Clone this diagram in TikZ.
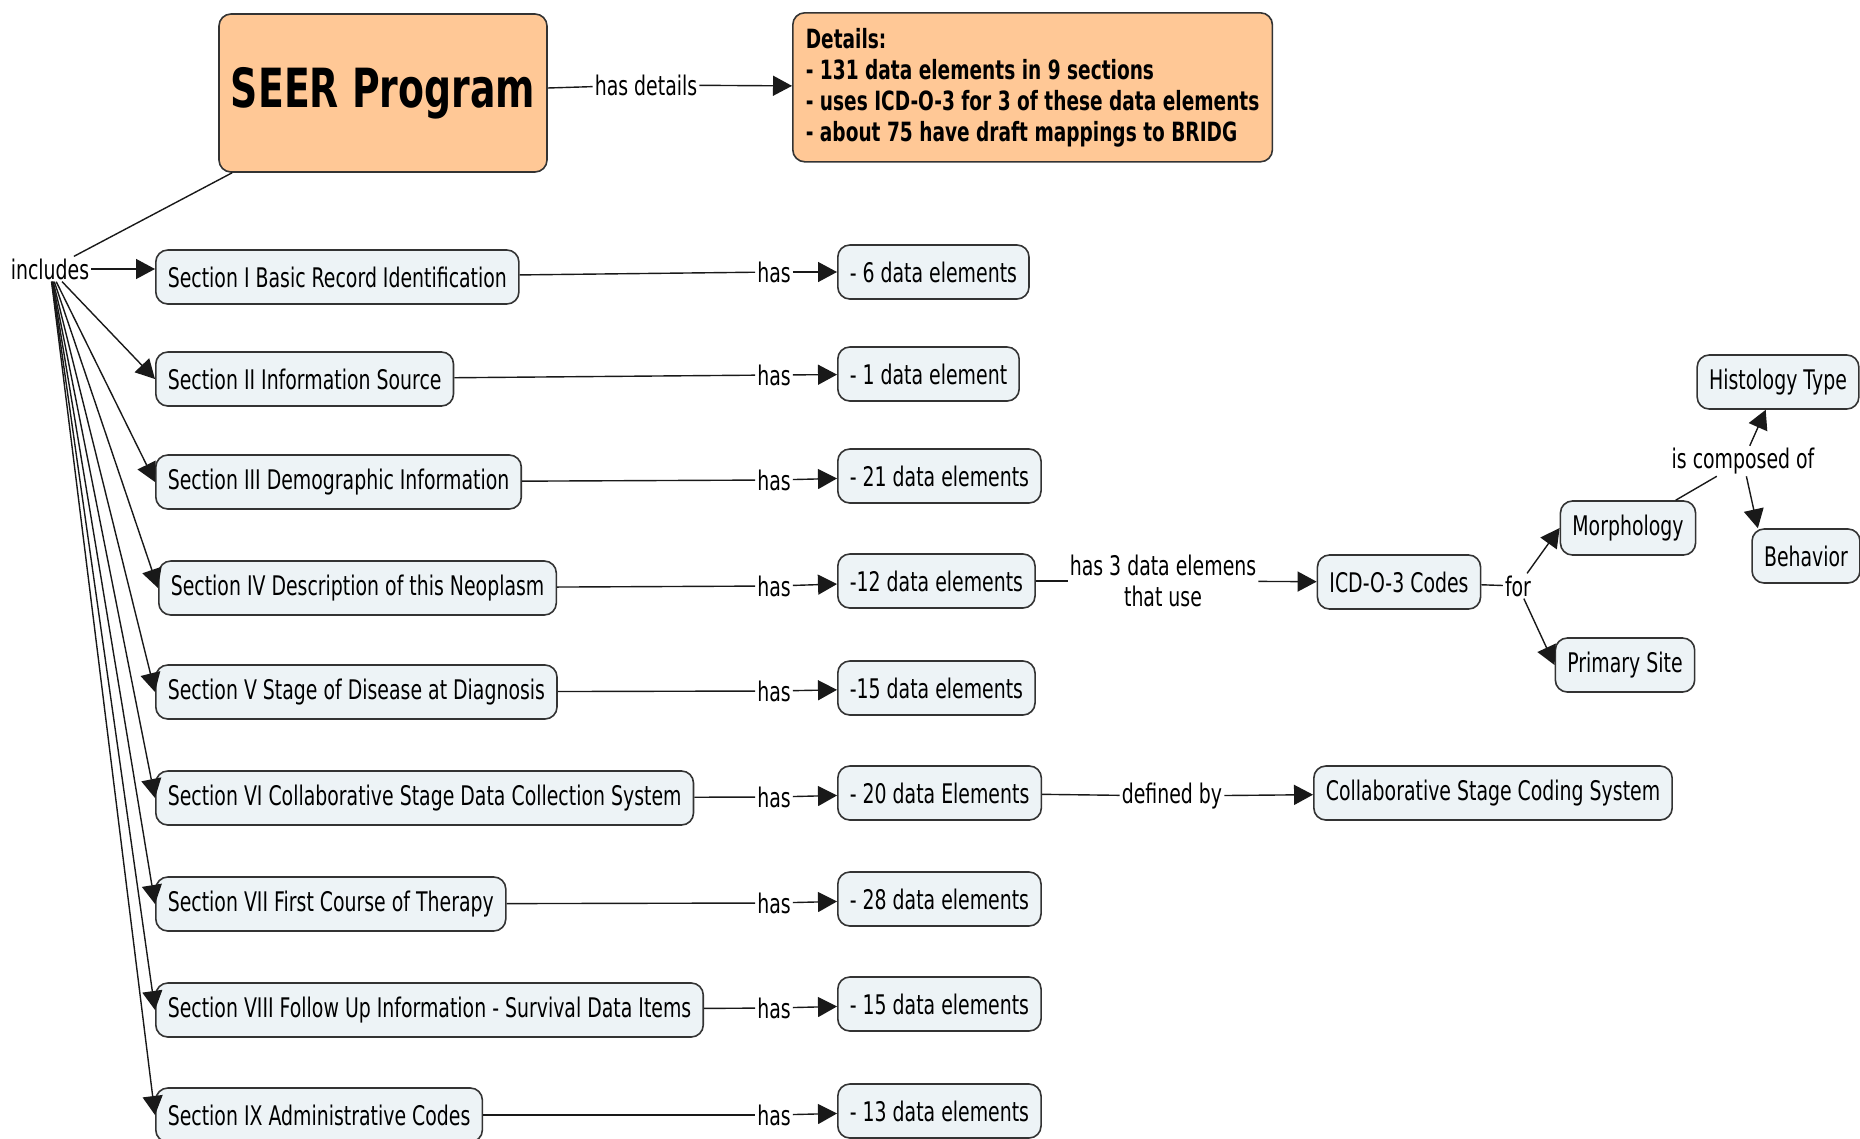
\documentclass[tikz,border=0pt]{standalone}
\usepackage{fontspec}
\setmainfont[FakeStretch=0.7]{DejaVu Sans}
\usetikzlibrary{arrows.meta}

\definecolor{peach}{RGB}{255,200,150}
\definecolor{boxblue}{RGB}{237,243,246}

\begin{document}
\begin{tikzpicture}
	[
		x=1pt, y=-1pt,
		every node/.style = {font=\fontsize{27}{31}\selectfont},
		concept/.style = {shape=rectangle, rounded corners=12pt, draw=black!80, line width=1.6pt, fill=boxblue, minimum height=54pt, inner xsep=12pt},
		secbox/.style = {concept, anchor=west},
		databox/.style = {concept, anchor=west},
		topbox/.style = {concept, fill=peach},
		link/.style = {inner sep=2pt},
		conn/.style = {line width=1.4pt, draw=black!90},
		arr/.style = {conn, -{Triangle[length=19pt,width=20pt]}}
	]
	
	\useasboundingbox (0,0) rectangle (1860,1138);
	
	% top of the map
	\node [topbox, minimum width=322pt, minimum height=158pt, font=\fontsize{54}{60}\selectfont\bfseries] (seer) at (383, 93) {SEER Program};
	\node [topbox, anchor=north west, minimum height=149pt, inner xsep=13pt, align=left, font=\fontsize{26.5}{31}\selectfont\bfseries] (det) at (792, 12) {Details:\\- 131 data elements in 9 sections\\- uses ICD-O-3 for 3 of these data elements\\- about 75 have draft mappings to BRIDG};
	\node [link] (hd) at (646, 85) {has details};
	\draw [conn] (seer) -- (hd);
	\draw [arr] (hd) -- (det);
	
	\node [link] (inc) at (50, 269) {includes};
	\draw [conn] (seer) -- (inc);
	
	% sections
	\def\y{277}
	\node [secbox] (s1) at (155, \y) {Section I Basic Record Identification};
	\node [link] (h1) at (774, {\y - 5}) {has};
	\node [databox] (d1) at (837, {\y - 5}) {- 6 data elements};
	\draw [arr] (inc) -- (inc -| s1.west);
	\draw [conn] (s1) -- (h1);
	\draw [arr] (h1) -- (d1);
	
	\def\y{379}
	\node [secbox] (s2) at (155, \y) {Section II Information Source};
	\node [link] (h2) at (774, {\y - 4}) {has};
	\node [databox] (d2) at (837, {\y - 5}) {- 1 data element};
	\draw [arr] (inc) -- (s2.west);
	\draw [conn] (s2) -- (h2);
	\draw [arr] (h2) -- (d2);
	
	\def\y{482}
	\node [secbox] (s3) at (155, \y) {Section III Demographic Information};
	\node [link] (h3) at (774, {\y - 2}) {has};
	\node [databox] (d3) at (837, {\y - 6}) {- 21 data elements};
	\draw [arr] (inc) -- (s3.west);
	\draw [conn] (s3) -- (h3);
	\draw [arr] (h3) -- (d3);
	
	\def\y{588}
	\node [secbox] (s4) at (158, \y) {Section IV Description of this Neoplasm};
	\node [link] (h4) at (774, {\y - 2}) {has};
	\node [databox] (d4) at (837, {\y - 7}) {-12 data elements};
	\draw [arr] (inc) -- (s4.west);
	\draw [conn] (s4) -- (h4);
	\draw [arr] (h4) -- (d4);
	
	\def\y{692}
	\node [secbox] (s5) at (155, \y) {Section V Stage of Disease at Diagnosis};
	\node [link] (h5) at (774, {\y - 1}) {has};
	\node [databox] (d5) at (837, {\y - 4}) {-15 data elements};
	\draw [arr] (inc) -- (s5.west);
	\draw [conn] (s5) -- (h5);
	\draw [arr] (h5) -- (d5);
	
	\def\y{798}
	\node [secbox] (s6) at (155, \y) {Section VI Collaborative Stage Data Collection System};
	\node [link] (h6) at (774, {\y - 1}) {has};
	\node [databox] (d6) at (837, {\y - 5}) {- 20 data Elements};
	\draw [arr] (inc) -- (s6.west);
	\draw [conn] (s6) -- (h6);
	\draw [arr] (h6) -- (d6);
	
	\def\y{904}
	\node [secbox] (s7) at (155, \y) {Section VII First Course of Therapy};
	\node [link] (h7) at (774, {\y - 1}) {has};
	\node [databox] (d7) at (837, {\y - 5}) {- 28 data elements};
	\draw [arr] (inc) -- (s7.west);
	\draw [conn] (s7) -- (h7);
	\draw [arr] (h7) -- (d7);
	
	\def\y{1010}
	\node [secbox] (s8) at (155, \y) {Section VIII Follow Up Information - Survival Data Items};
	\node [link] (h8) at (774, {\y - 2}) {has};
	\node [databox] (d8) at (837, {\y - 6}) {- 15 data elements};
	\draw [arr] (inc) -- (s8.west);
	\draw [conn] (s8) -- (h8);
	\draw [arr] (h8) -- (d8);
	
	\def\y{1115}
	\node [secbox] (s9) at (155, \y) {Section IX Administrative Codes};
	\node [link] (h9) at (774, \y) {has};
	\node [databox] (d9) at (837, {\y - 4}) {- 13 data elements};
	\draw [arr] (inc) -- (s9.west);
	\draw [conn] (s9) -- (h9);
	\draw [arr] (h9) -- (d9);
	
	% ICD-O-3 branch
	\node [link, align=center] (use) at (1163, 581) {has 3 data elemens\\that use};
	\node [concept] (icd) at (1399, 582) {ICD-O-3 Codes};
	\node [link] (for) at (1518, 586) {for};
	\node [concept] (morph) at (1628, 528) {Morphology};
	\node [concept] (prim) at (1625, 665) {Primary Site};
	\node [link] (comp) at (1743, 461) {is composed of};
	\node [concept] (hist) at (1778, 382) {Histology Type};
	\node [concept] (beh) at (1806, 556) {Behavior};
	
	\draw [conn] (d4) -- (use);
	\draw [arr] (use) -- (icd);
	\draw [conn] (icd) -- (for);
	\draw [arr] (for) -- (morph.west);
	\draw [arr] (for) -- (prim.west);
	\draw [conn] (morph) -- (comp);
	\draw [arr] (comp) -- (hist);
	\draw [arr] (comp) -- (beh.150);
	
	% collaborative stage
	\node [link] (def) at (1172, 796) {defined by};
	\node [concept] (css) at (1493, 793) {Collaborative Stage Coding System};
	\draw [conn] (d6) -- (def);
	\draw [arr] (def) -- (css);
	
\end{tikzpicture}
\end{document}
